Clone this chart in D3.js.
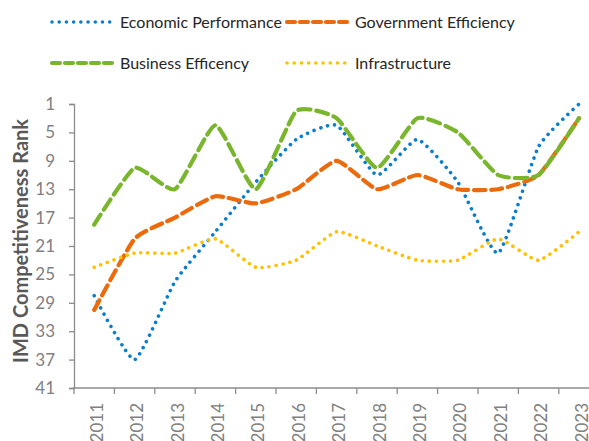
<!DOCTYPE html>
<html>
<head>
<meta charset="utf-8">
<script src="https://cdn.jsdelivr.net/npm/d3@7"></script>
<style>
  body { margin: 0; background: #fff; }
  svg { font-family: Lato, "Open Sans", sans-serif; }
</style>
</head>
<body>
<div id="chart"></div>
<script>
// data (rank, 1 = best)
let years = ["2011", "2012", "2013", "2014", "2015", "2016", "2017", "2018", "2019", "2020", "2021", "2022", "2023"];
let economic = [28, 37, 26, 19, 12, 6, 4, 11, 6, 12, 22, 7, 1];
let government = [30, 20, 17, 14, 15, 13, 9, 13, 11, 13, 13, 11, 3];
let business = [18, 10, 13, 4, 13, 2, 3, 10, 3, 5, 11, 11, 3];
let infrastructure = [24, 22, 22, 20, 24, 23, 19, 21, 23, 23, 20, 23, 19];
let yTicks = [1, 5, 9, 13, 17, 21, 25, 29, 33, 37, 41];

let svgWidth = 589;
let svgHeight = 441;

let svg = d3.select("#chart")
    .append("svg")
    .attr("width", svgWidth)
    .attr("height", svgHeight);

let plotLeft = 74, plotTop = 104, plotBottom = 388;

let x = d3.scaleBand()
    .domain(years)
    .range([plotLeft, plotLeft + 13 * 40.4]);

let y = d3.scaleLinear()
    .domain([1, 41])
    .range([plotTop, plotBottom]);

// series styles
let series = [
    { name: "Economic Performance", values: economic, color: "#0a7dcb", width: 3.6, dash: "0.01 7", legDash: "0.01 7.2" },
    { name: "Government Efficiency", values: government, color: "#ec6a0c", width: 4.2, dash: "11 6", legDash: "8 5" },
    { name: "Business Efficency", values: business, color: "#7ab62d", width: 4.2, dash: "12 6", legDash: "8 5" },
    { name: "Infrastructure", values: infrastructure, color: "#ffc000", width: 3.6, dash: "0.01 7", legDash: "0.01 7.2" }
];

// y axis
let yAxis = svg.append("g")
    .attr("transform", `translate(${plotLeft},0)`)
    .call(d3.axisLeft(y).tickValues(yTicks).tickSize(5).tickPadding(14));

yAxis.select(".domain").attr("stroke", "#8c8c8c").attr("stroke-width", 1.3);
yAxis.selectAll(".tick line").attr("stroke", "#8c8c8c").attr("stroke-width", 1.3);
yAxis.selectAll(".tick text")
    .attr("fill", "#808080")
    .style("font-size", "17px")
    .style("font-family", "Lato, sans-serif");

// x axis line + boundary ticks
let xAxis = svg.append("g");
xAxis.append("line")
    .attr("x1", plotLeft - 1).attr("x2", svgWidth)
    .attr("y1", plotBottom).attr("y2", plotBottom)
    .attr("stroke", "#8c8c8c").attr("stroke-width", 1.3);

xAxis.selectAll("line.tk")
    .data(years)
    .enter()
    .append("line")
    .attr("class", "tk")
    .attr("x1", d => x(d)).attr("x2", d => x(d))
    .attr("y1", plotBottom).attr("y2", plotBottom + 6)
    .attr("stroke", "#8c8c8c").attr("stroke-width", 1.3);

xAxis.selectAll("text")
    .data(years)
    .enter()
    .append("text")
    .attr("transform", d => `translate(${x(d) + x.bandwidth() / 2 + 8.5},${plotBottom + 15}) rotate(-90)`)
    .attr("text-anchor", "end")
    .attr("fill", "#808080")
    .style("font-size", "17px")
    .text(d => d);

// y axis title
svg.append("text")
    .attr("transform", "translate(28,241) rotate(-90)")
    .attr("text-anchor", "middle")
    .attr("fill", "#595959")
    .style("font-size", "20px")
    .style("font-weight", "bold")
    .text("IMD Competitiveness Rank");

// lines (lightly smoothed, like the spreadsheet)
let line = d3.line()
    .x((d, i) => x(years[i]) + x.bandwidth() / 2)
    .y(d => y(d))
    .curve(d3.curveCardinal.tension(0.5));

series.forEach(function(s) {
    svg.append("path")
        .datum(s.values)
        .attr("d", line)
        .attr("fill", "none")
        .attr("stroke", s.color)
        .attr("stroke-width", s.width)
        .attr("stroke-linecap", "round")
        .attr("stroke-dasharray", s.dash);
});

// legend
let legPos = [[52, 22], [287, 22], [52, 63], [287, 63]];

series.forEach(function(s, i) {
    let lx = legPos[i][0], ly = legPos[i][1];
    svg.append("line")
        .attr("x1", lx).attr("x2", lx + 60)
        .attr("y1", ly).attr("y2", ly)
        .attr("stroke", s.color)
        .attr("stroke-width", s.width)
        .attr("stroke-linecap", "round")
        .attr("stroke-dasharray", s.legDash);
    svg.append("text")
        .attr("x", lx + 68)
        .attr("y", ly + 6)
        .attr("fill", "#262626")
        .style("font-size", "16px")
        .text(s.name);
});
</script>
</body>
</html>
